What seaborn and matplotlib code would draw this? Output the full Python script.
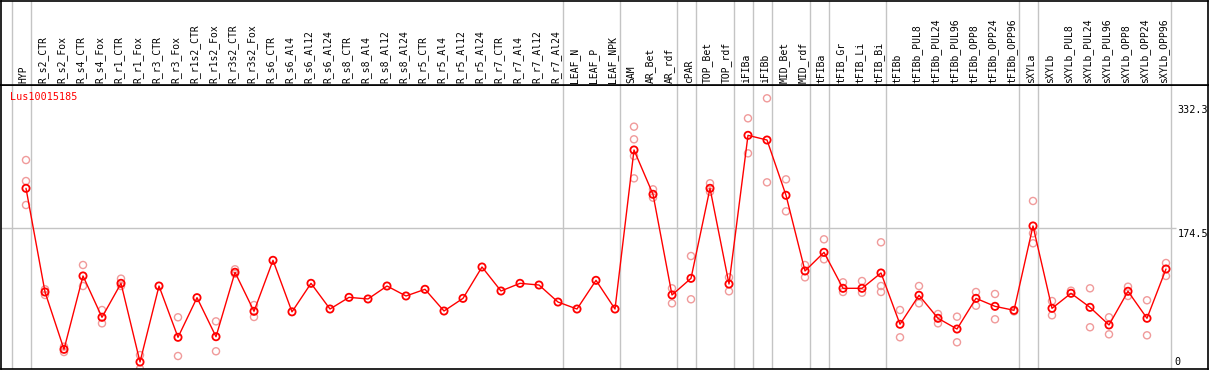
import numpy as np
import pandas as pd
import matplotlib
matplotlib.use("Agg")
import matplotlib.pyplot as plt
import seaborn as sns

# ---------------- data ----------------
gene = "Lus10015185"
categories = [
    "HYP", "R_s2_CTR", "R_s2_Fox", "R_s4_CTR", "R_s4_Fox", "R_r1_CTR", "R_r1_Fox",
    "R_r3_CTR", "R_r3_Fox", "R_r1s2_CTR", "R_r1s2_Fox", "R_r3s2_CTR", "R_r3s2_Fox",
    "R_s6_CTR", "R_s6_Al4", "R_s6_Al12", "R_s6_Al24", "R_s8_CTR", "R_s8_Al4",
    "R_s8_Al12", "R_s8_Al24", "R_r5_CTR", "R_r5_Al4", "R_r5_Al12", "R_r5_Al24",
    "R_r7_CTR", "R_r7_Al4", "R_r7_Al12", "R_r7_Al24", "LEAF_N", "LEAF_P", "LEAF_NPK",
    "SAM", "AR_Bet", "AR_rdf", "cPAR", "TOP_Bet", "TOP_rdf", "iFIBa", "iFIBb",
    "MID_Bet", "MID_rdf", "tFIBa", "tFIB_Gr", "tFIB_Li", "tFIB_Bi", "tFIBb",
    "tFIBb_PUL8", "tFIBb_PUL24", "tFIBb_PUL96", "tFIBb_OPP8", "tFIBb_OPP24",
    "tFIBb_OPP96", "sXYLa", "sXYLb", "sXYLb_PUL8", "sXYLb_PUL24", "sXYLb_PUL96",
    "sXYLb_OPP8", "sXYLb_OPP24", "sXYLb_OPP96",
]
mean_values = [
    226.5, 91.3, 16.5, 112.2, 58.3, 102.6, 0.0, 99.1, 32.2, 83.9, 33.0, 117.0, 66.1,
    132.6, 65.4, 102.6, 69.1, 84.3, 82.2, 99.1, 86.1, 94.8, 66.5, 83.0, 123.9,
    92.6, 102.6, 100.4, 78.2, 69.1, 106.5, 69.1,
    276.5, 218.7, 87.4, 109.1, 226.5, 101.7, 295.6, 289.5, 217.4, 118.7,
    143.0, 96.1, 96.1, 116.1, 49.2, 87.0, 57.0, 43.0, 83.0, 72.6, 67.4,
    177.4, 70.0, 89.6, 71.3, 48.3, 92.2, 57.0, 121.3,
]
rep_category = [
    "HYP", "HYP", "HYP", "R_s2_CTR", "R_s2_CTR", "R_s2_Fox", "R_s2_Fox",
    "R_s4_CTR", "R_s4_CTR", "R_s4_Fox", "R_s4_Fox", "R_r1_CTR", "R_r1_CTR",
    "R_r1_Fox", "R_r1_Fox", "R_r3_Fox", "R_r3_Fox", "R_r1s2_Fox", "R_r1s2_Fox",
    "R_r3s2_CTR", "R_r3s2_CTR", "R_r3s2_Fox", "R_r3s2_Fox",
    "SAM", "SAM", "SAM", "SAM", "AR_Bet", "AR_Bet", "AR_rdf", "AR_rdf",
    "cPAR", "cPAR", "TOP_Bet", "TOP_Bet", "TOP_rdf", "TOP_rdf",
    "iFIBa", "iFIBa", "iFIBb", "iFIBb", "MID_Bet", "MID_Bet", "MID_rdf", "MID_rdf",
    "tFIBa", "tFIBa", "tFIB_Gr", "tFIB_Gr", "tFIB_Li", "tFIB_Li",
    "tFIB_Bi", "tFIB_Bi", "tFIB_Bi", "tFIBb", "tFIBb",
    "tFIBb_PUL8", "tFIBb_PUL8", "tFIBb_PUL24", "tFIBb_PUL24",
    "tFIBb_PUL96", "tFIBb_PUL96", "tFIBb_OPP8", "tFIBb_OPP8",
    "tFIBb_OPP24", "tFIBb_OPP24", "tFIBb_OPP96",
    "sXYLa", "sXYLa", "sXYLa", "sXYLb", "sXYLb", "sXYLb_PUL8",
    "sXYLb_PUL24", "sXYLb_PUL24", "sXYLb_PUL96", "sXYLb_PUL96",
    "sXYLb_OPP8", "sXYLb_OPP8", "sXYLb_OPP24", "sXYLb_OPP24",
    "sXYLb_OPP96", "sXYLb_OPP96",
]
rep_values = [
    263.4, 236.0, 204.7, 94.8, 87.4, 20.0, 13.0,
    126.5, 99.1, 67.8, 50.4, 108.7, 99.1,
    9.1, -9.0, 58.3, 7.8, 53.0, 14.0,
    120.9, 115.0, 74.3, 58.7,
    306.9, 290.4, 268.6, 239.5, 225.2, 214.3, 96.1, 76.5,
    138.2, 81.8, 233.1, 222.0, 110.4, 92.2,
    317.8, 272.1, 343.9, 234.3, 238.2, 196.5, 126.5, 110.4,
    160.0, 133.9, 103.9, 91.3, 105.6, 90.4,
    156.1, 99.1, 91.3, 67.8, 32.2,
    99.1, 76.5, 62.6, 50.4,
    59.1, 25.7, 91.3, 73.4,
    88.7, 55.7, 66.0,
    210.0, 167.8, 154.8, 79.5, 60.9, 93.0,
    96.1, 45.3, 58.3, 36.1,
    98.2, 86.1, 80.5, 34.8,
    129.1, 112.2,
]
# last category of each sample group (separator lines drawn after them)
group_ends = ["HYP", "R_r7_Al24", "LEAF_NPK", "AR_rdf", "cPAR", "TOP_rdf", "iFIBa",
              "iFIBb", "MID_rdf", "tFIBa", "tFIB_Bi", "tFIBb_OPP96", "sXYLa", "sXYLb_OPP96"]
axis_max_label = 332.3
axis_ref_label = 174.5

# ---------------- figure ----------------
sns.set_theme(style="white")
plt.rcParams["font.family"] = ["DejaVu Sans Mono", "DejaVu Sans"]

W, H = 1209, 370
fig = plt.figure(figsize=(W / 100, H / 100), dpi=100)
fig.patch.set_facecolor("white")

pos = {c: i for i, c in enumerate(categories)}
df_mean = pd.DataFrame({"x": np.arange(len(categories)), "y": mean_values})
df_rep = pd.DataFrame({"x": [pos[c] for c in rep_category], "y": rep_values})

px_left, px_right = 1.0, 1207.5
x0_px, step_px = 26.0, 19.0
xlim = ((px_left - x0_px) / step_px, (px_right - x0_px) / step_px)

# pixel mapping for y : value 0 -> 362 px, 0.7668 px per unit
zero_px, scale = 362.0, 0.7668
top_px, bot_px, head_px = 85.0, 369.0, 0.5
ylim = ((zero_px - bot_px) / scale, (zero_px - top_px) / scale)

ax = fig.add_axes([px_left / W, (H - bot_px) / H, (px_right - px_left) / W, (bot_px - top_px) / H])
axh = fig.add_axes([px_left / W, (H - top_px) / H, (px_right - px_left) / W, (top_px - head_px) / H])

sep_offset = 4.5 / step_px
sep_x = [-1 + sep_offset] + [pos[c] + sep_offset for c in group_ends]
for a in (ax, axh):
    a.set_xlim(*xlim)
    for s in a.spines.values():
        s.set_color("black")
        s.set_linewidth(1.2)
    a.set_xticks([])
    a.set_yticks([])
    a.set_facecolor("white")
    for xv in sep_x:
        a.axvline(xv, color="#c4c4c4", lw=1.0, zorder=0)
ax.set_ylim(*ylim)
axh.set_ylim(0, 1)

# horizontal reference line
ref_end = (1176 - x0_px) / step_px
ax.hlines(axis_ref_label, xlim[0], ref_end, color="#c4c4c4", lw=1.0, zorder=0)

# replicates
sns.scatterplot(data=df_rep, x="x", y="y", ax=ax, marker="o", s=26,
                facecolors="none", edgecolor="#f09a9a", linewidth=1.0, zorder=2,
                legend=False, clip_on=True)
# mean line
sns.lineplot(data=df_mean, x="x", y="y", ax=ax, color="#ff0000", lw=1.0,
             zorder=3, legend=False)
sns.scatterplot(data=df_mean, x="x", y="y", ax=ax, marker="o", s=27,
                facecolors="none", edgecolor="#ff0000", linewidth=1.3, zorder=4,
                legend=False)
ax.set_xlabel("")
ax.set_ylabel("")
ax.set_xlim(*xlim)
ax.set_ylim(*ylim)

# header labels
for c in categories:
    axh.text(pos[c] - 0.12, 0.025, c, rotation=90, ha="center", va="bottom",
             fontsize=7, color="black")

# gene name
ax.text((10 - x0_px) / step_px, (zero_px - 97) / scale, gene, color="#ff0000",
        fontsize=7.3, ha="left", va="center")

# right-side value labels
lab_x = (1208 - x0_px) / step_px
ax.text(lab_x, axis_max_label - 4, f"{axis_max_label}", fontsize=7.3, ha="right",
        va="center", color="black")
ax.text(lab_x, axis_ref_label - 1, f"{axis_ref_label}", fontsize=7.3, ha="right",
        va="top", color="black")
ax.text((1172 - x0_px) / step_px + 0.1, 0, "0", fontsize=7.3, ha="left",
        va="center", color="black")

fig.savefig("out.png", dpi=100, facecolor="white")
